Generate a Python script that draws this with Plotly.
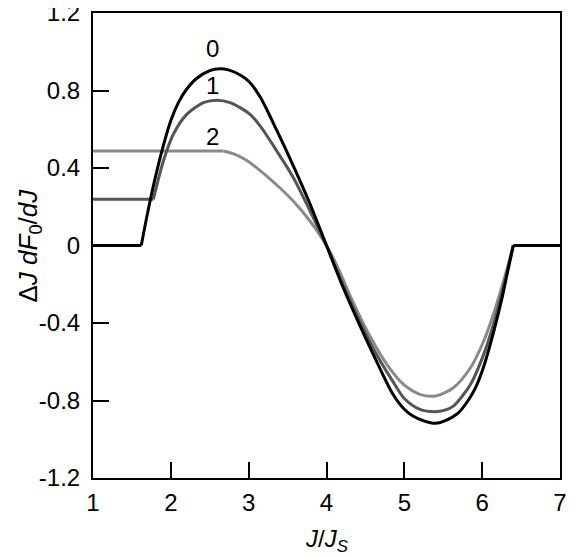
import plotly.graph_objects as go

# Curve 0 (black)
x0 = [1.0, 1.62, 1.70, 1.80, 1.89, 2.00, 2.10, 2.20, 2.33, 2.50, 2.63, 2.75, 2.89, 3.00, 3.15, 3.36, 3.575, 3.79, 4.00,
      4.21, 4.425, 4.64, 4.85, 5.00, 5.11, 5.25, 5.40, 5.52, 5.69, 5.82, 5.92, 6.02, 6.145, 6.25, 6.33, 6.40, 7.0]
y0 = [0.0, 0.0, 0.165, 0.35, 0.495, 0.645, 0.74, 0.805, 0.862, 0.903, 0.912, 0.905, 0.880, 0.848, 0.765, 0.595, 0.41, 0.213, 0.0,
      -0.213, -0.41, -0.595, -0.765, -0.845, -0.880, -0.905, -0.918, -0.905, -0.865, -0.80, -0.73, -0.625, -0.45, -0.28, -0.13, 0.0, 0.0]

# Curve 1 (dark gray)
x1 = [1.0, 1.775, 1.904, 2.032, 2.204, 2.418, 2.59, 2.761, 3.018, 3.147, 3.361, 3.575, 3.789, 4.00,
      4.21, 4.425, 4.64, 4.85, 5.00, 5.20, 5.40, 5.52, 5.63, 5.85, 6.02, 6.145, 6.25, 6.33, 6.40]
y1 = [0.2385, 0.2385, 0.436, 0.574, 0.677, 0.737, 0.750, 0.737, 0.677, 0.617, 0.488, 0.350, 0.178, 0.0,
      -0.20, -0.39, -0.56, -0.70, -0.79, -0.846, -0.858, -0.85, -0.829, -0.717, -0.562, -0.407, -0.25, -0.12, 0.0]

# Curve 2 (light gray)
x2 = [1.0, 2.675, 2.80, 2.95, 3.10, 3.25, 3.40, 3.575, 3.79, 3.90, 4.00,
      4.13, 4.35, 4.56, 4.775, 4.99, 5.20, 5.40, 5.63, 5.85, 6.02, 6.145, 6.25, 6.33, 6.40]
y2 = [0.488, 0.488, 0.474, 0.445, 0.402, 0.352, 0.298, 0.228, 0.125, 0.063, 0.0,
      -0.10, -0.30, -0.47, -0.613, -0.717, -0.768, -0.777, -0.734, -0.631, -0.493, -0.355, -0.218, -0.105, 0.0]

xticks = [1, 2, 3, 4, 5, 6, 7]
xticklabels = ["1", "2", "3", "4", "5", "6", "7"]
yticks = [-1.2, -0.8, -0.4, 0, 0.4, 0.8, 1.2]
yticklabels = ["-1.2", "-0.8", "-0.4", "0", "0.4", "0.8", "1.2"]

curve_labels = ["0", "1", "2"]
label_x = [2.54, 2.54, 2.54]
label_y = [1.015, 0.825, 0.565]

colors = ["#000000", "#555555", "#8a8a8a"]


def add_curve(fig, xs, ys, color):
    # flat part(s) drawn straight, curved part smoothed
    n = len(xs)
    i0 = 1
    i1 = n - 1
    if ys[-1] == ys[-2]:
        i1 = n - 2
        fig.add_trace(go.Scatter(x=xs[i1:], y=ys[i1:], mode="lines",
                                 line=dict(color=color, width=3), showlegend=False))
    fig.add_trace(go.Scatter(x=xs[:i0 + 1], y=ys[:i0 + 1], mode="lines",
                             line=dict(color=color, width=3), showlegend=False))
    fig.add_trace(go.Scatter(x=xs[i0:i1 + 1], y=ys[i0:i1 + 1], mode="lines",
                             line=dict(color=color, width=3, shape="spline", smoothing=0.8),
                             showlegend=False))


fig = go.Figure()
add_curve(fig, x2, y2, colors[2])
add_curve(fig, x1, y1, colors[1])
add_curve(fig, x0, y0, colors[0])

tfont = dict(family="Liberation Sans, Arial, sans-serif", size=24, color="black")
yfont = dict(family="Liberation Sans, Arial, sans-serif", size=26, color="black")

for t, lx, ly in zip(curve_labels, label_x, label_y):
    fig.add_annotation(x=lx, y=ly, text=t, showarrow=False, font=tfont, xanchor="center", yanchor="middle")

fig.add_annotation(xref="paper", yref="paper", x=-0.137, y=0.5, text="Δ<i>J dF</i><sub>0</sub>/<i>dJ</i>",
                   textangle=-90, showarrow=False, font=yfont, xanchor="center", yanchor="middle")
fig.add_annotation(xref="paper", yref="paper", x=0.502, y=-0.135, text="<i>J</i>/<i>J</i><sub><i>S</i></sub>",
                   showarrow=False, font=tfont, xanchor="center", yanchor="middle")

fig.update_layout(
    template="none",
    width=577, height=558,
    margin=dict(l=85, r=25, t=5, b=88, autoexpand=False),
    plot_bgcolor="white", paper_bgcolor="white",
    font=tfont,
    showlegend=False,
)
fig.update_xaxes(range=[1, 7], tickvals=xticks, ticktext=xticklabels, ticks="inside", ticklen=16, tickwidth=2,
                 tickcolor="black", showline=True, linewidth=2, linecolor="black", mirror=True,
                 showgrid=False, zeroline=False, tickfont=tfont, ticklabelstandoff=2, automargin=False,
                 ticklabeloverflow="allow")
fig.update_yaxes(range=[-1.2, 1.2], tickvals=yticks, ticktext=yticklabels, ticks="inside", ticklen=16, tickwidth=2,
                 tickcolor="black", showline=True, linewidth=2, linecolor="black", mirror=True,
                 showgrid=False, zeroline=False, tickfont=tfont, ticklabelstandoff=6, automargin=False,
                 ticklabeloverflow="allow")

fig.write_html("out.html")
